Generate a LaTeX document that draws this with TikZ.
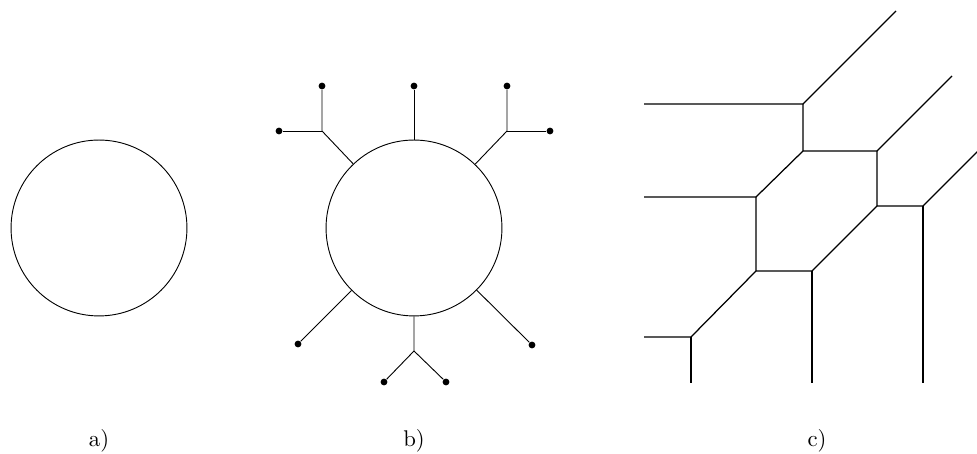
\documentclass[tikz,border=0pt]{standalone}
\usepackage{tikz}
\usetikzlibrary{positioning}

\begin{document}
\begin{tikzpicture}[x=0.44pt, y=-0.44pt,
  ring/.style={circle, draw, line width=0.4pt, minimum size=77.4pt,
               inner sep=0pt},
  leaf/.style={circle, fill=black, inner sep=0pt, minimum size=3pt},
  spoke/.style={line width=0.4pt},
  web/.style={line width=0.55pt},
  caption/.style={anchor=base}
]
\useasboundingbox (0,0) rectangle (977,454);

% a) bare circle
\node[ring] (ringa) at (99,228) {};

% b) circle with trees
\node[ring] (ringb) at (414,228) {};

\node[leaf] (btop) at (414,86) {};

\coordinate (bul) at (322,131);
\node[leaf] (bulup) at (322,86) {};
\node[leaf] (bulleft) at (279,131) {};

\coordinate (bur) at (507,131);
\node[leaf] (burup) at (507,86) {};
\node[leaf] (burright) at (550,131) {};

\node[leaf] (bll) at (298,344) {};
\node[leaf] (blr) at (532,345) {};

\coordinate (bbot) at (414,351);
\node[leaf] (bbl) at (384,382) {};
\node[leaf] (bbr) at (446,382) {};

\draw[spoke] (ringb) -- (btop);
\draw[spoke] (ringb) -- (bul) -- (bulup);
\draw[spoke] (bul) -- (bulleft);
\draw[spoke] (ringb) -- (bur) -- (burup);
\draw[spoke] (bur) -- (burright);
\draw[spoke] (ringb) -- (bll);
\draw[spoke] (ringb) -- (blr);
\draw[spoke] (ringb) -- (bbot) -- (bbl);
\draw[spoke] (bbot) -- (bbr);

% c) tropical curve
\coordinate (c1) at (803,104);
\coordinate (c2) at (803,151);
\coordinate (c3) at (877,151);
\coordinate (c4) at (877,206);
\coordinate (c5) at (923,206);
\coordinate (c6) at (756,197);
\coordinate (c7) at (756,271);
\coordinate (c8) at (812,271);
\coordinate (c9) at (691,337);

\coordinate (e1) at (896,11);
\coordinate (e2) at (644,104);
\coordinate (e3) at (952,76);
\coordinate (e4) at (978,151);
\coordinate (e5) at (644,197);
\coordinate (e6) at (812,383);
\coordinate (e7) at (923,383);
\coordinate (e8) at (644,337);
\coordinate (e9) at (691,383);

\draw[web] (e2) -- (c1) -- (e1);
\draw[web] (c1) -- (c2) -- (c3) -- (e3);
\draw[web] (c3) -- (c4) -- (c5) -- (e4);
\draw[web] (c5) -- (e7);
\draw[web] (c2) -- (c6) -- (e5);
\draw[web] (c6) -- (c7) -- (c8) -- (c4);
\draw[web] (c8) -- (e6);
\draw[web] (c7) -- (c9) -- (e8);
\draw[web] (c9) -- (e9);

% captions
\node[caption] (capa) at (99,447) {a)};
\node[caption] (capb) at (414,447) {b)};
\node[caption] (capc) at (817,447) {c)};

\end{tikzpicture}
\end{document}
